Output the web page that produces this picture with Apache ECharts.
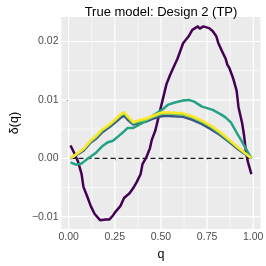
<!DOCTYPE html>
<html><head><meta charset="utf-8">
<script src="https://cdn.jsdelivr.net/npm/echarts@6/dist/echarts.min.js"></script>
<style>html,body{margin:0;padding:0;background:#fff}#c{width:266px;height:266px}</style>
</head><body><div id="c"></div>
<script>
var seriesNames = ['1', '2', '3', '4', '5'];
var seriesColors = ['#440154', '#3B528B', '#25A283', '#6CCB5F', '#FDE725'];

var qPurple = [0.01,0.03,0.05,0.07,0.08,0.10,0.12,0.14,0.17,0.18,0.20,0.22,0.24,0.25,0.28,0.30,0.33,0.35,0.37,0.39,0.40,0.42,0.44,0.45,0.47,0.50,0.53,0.55,0.59,0.62,0.65,0.67,0.70,0.71,0.73,0.76,0.78,0.80,0.81,0.83,0.85,0.86,0.87,0.89,0.91,0.92,0.94,0.95,0.96,0.97,0.99];
var dPurple = [0.0022,0.0009,-0.0005,-0.0027,-0.0049,-0.0065,-0.0082,-0.0095,-0.0106,-0.0104,-0.0105,-0.0105,-0.0098,-0.0093,-0.0082,-0.0068,-0.0060,-0.0051,-0.0040,-0.0027,-0.0010,0.0001,0.0017,0.0031,0.0048,0.0088,0.0127,0.0143,0.0171,0.0197,0.0209,0.0220,0.0226,0.0222,0.0226,0.0223,0.0218,0.0209,0.0198,0.0184,0.0171,0.0160,0.0155,0.0138,0.0116,0.0088,0.0060,0.0040,0.0012,-0.0005,-0.0027];

var qTeal = [0.01,0.04,0.07,0.09,0.12,0.15,0.18,0.21,0.24,0.27,0.30,0.32,0.35,0.38,0.42,0.45,0.48,0.51,0.54,0.58,0.62,0.65,0.68,0.72,0.75,0.78,0.82,0.85,0.88,0.91,0.94,0.97,0.99];
var dTeal = [-0.0007,-0.0011,-0.0009,-0.0004,0.0003,0.0010,0.0020,0.0027,0.0030,0.0038,0.0046,0.0052,0.0052,0.0057,0.0064,0.0072,0.0078,0.0084,0.0092,0.0096,0.0099,0.0100,0.0097,0.0089,0.0086,0.0083,0.0076,0.0070,0.0061,0.0044,0.0028,0.0011,0.0000];

var qBundle = [0.01,0.05,0.08,0.12,0.15,0.18,0.22,0.25,0.28,0.30,0.32,0.35,0.38,0.42,0.45,0.49,0.52,0.57,0.62,0.67,0.72,0.77,0.82,0.87,0.92,0.96,0.99];
var dBlue   = [0.0000,0.0007,0.0013,0.0027,0.0034,0.0044,0.0053,0.0061,0.0069,0.0073,0.0066,0.0058,0.0060,0.0063,0.0067,0.0071,0.0073,0.0072,0.0071,0.0066,0.0059,0.0050,0.0040,0.0028,0.0015,0.0006,0.0000];
var dGreen  = [0.0000,0.0008,0.0015,0.0029,0.0037,0.0047,0.0056,0.0064,0.0073,0.0077,0.0070,0.0060,0.0063,0.0066,0.0070,0.0075,0.0077,0.0076,0.0075,0.0070,0.0063,0.0054,0.0043,0.0030,0.0017,0.0007,0.0000];
var dYellow = [0.0000,0.0009,0.0016,0.0031,0.0039,0.0049,0.0058,0.0066,0.0075,0.0079,0.0072,0.0062,0.0065,0.0068,0.0072,0.0077,0.0079,0.0078,0.0077,0.0072,0.0065,0.0056,0.0045,0.0032,0.0018,0.0008,0.0000];

var refLineQ = [0.01, 0.99];
var refLineD = [0, 0];

var xTicks = [0, 0.25, 0.5, 0.75, 1];
var xMinor = [0.125, 0.375, 0.625, 0.875];
var yTicks = [-0.01, 0, 0.01, 0.02];
var yMinor = [-0.005, 0.005, 0.015];

var X_MIN = -0.039, X_MAX = 1.039, Y_MIN = -0.01213, Y_MAX = 0.0242;

function zip(a, b) { return a.map(function (v, i) { return [v, b[i]]; }); }

var FONT = 'Liberation Sans, Arial, Helvetica, sans-serif';

function gridSeries(vals, vertical, width) {
  return vals.map(function (v) {
    return { type: 'line', silent: true, z: 1, showSymbol: false, symbol: 'none',
      data: vertical ? [[v, Y_MIN], [v, Y_MAX]] : [[X_MIN, v], [X_MAX, v]],
      lineStyle: { color: '#ffffff', width: width } };
  });
}

function lineSeries(name, q, d, color, z) {
  return { name: name, type: 'line', data: zip(q, d), showSymbol: false, symbol: 'none',
    lineStyle: { color: color, width: 2.5 }, itemStyle: { color: color }, z: z, silent: true };
}

var series = []
  .concat(gridSeries(xMinor, true, 0.6))
  .concat(gridSeries(yMinor, false, 0.6))
  .concat(gridSeries(xTicks, true, 1.2))
  .concat(gridSeries(yTicks, false, 1.2));
series.push({ type: 'line', data: zip(refLineQ, refLineD), showSymbol: false, symbol: 'none', z: 2, silent: true,
  lineStyle: { color: '#1a1a1a', width: 1.3, type: [5, 3] } });
series.push(lineSeries(seriesNames[0], qPurple, dPurple, seriesColors[0], 3));
series.push(lineSeries(seriesNames[1], qBundle, dBlue, seriesColors[1], 4));
series.push(lineSeries(seriesNames[2], qTeal, dTeal, seriesColors[2], 5));
series.push(lineSeries(seriesNames[3], qBundle, dGreen, seriesColors[3], 6));
series.push(lineSeries(seriesNames[4], qBundle, dYellow, seriesColors[4], 7));

var chart = echarts.init(document.getElementById('c'), null, { renderer: 'canvas' });
chart.setOption({
  animation: false,
  backgroundColor: '#ffffff',
  title: { text: 'True model: Design 2 (TP)', left: 156, top: 1, textAlign: 'center',
    textStyle: { fontFamily: FONT, fontSize: 13, fontWeight: 'normal', color: '#000' } },
  grid: { left: 49, right: 3, top: 17, bottom: 29, show: true, backgroundColor: '#EBEBEB', borderWidth: 0 },
  xAxis: {
    type: 'value', min: X_MIN, max: X_MAX,
    name: 'q', nameLocation: 'middle', nameGap: 14,
    nameTextStyle: { fontFamily: FONT, fontSize: 12.5, color: '#000' },
    axisLine: { show: false },
    axisTick: { show: true, length: 2, lineStyle: { color: '#333' }, customValues: xTicks },
    axisLabel: { customValues: xTicks, margin: 3, fontFamily: FONT, fontSize: 10.5, color: '#4D4D4D',
      formatter: function (v) { return v.toFixed(2); } },
    splitLine: { show: false }
  },
  yAxis: {
    type: 'value', min: Y_MIN, max: Y_MAX,
    name: 'δ(q)', nameLocation: 'middle', nameGap: 36, nameRotate: 90,
    nameTextStyle: { fontFamily: FONT, fontSize: 12.5, color: '#000' },
    axisLine: { show: false },
    axisTick: { show: true, length: 2, lineStyle: { color: '#333' }, customValues: yTicks },
    axisLabel: { customValues: yTicks, margin: 3, fontFamily: FONT, fontSize: 10.5, color: '#4D4D4D',
      formatter: function (v) { return v.toFixed(2).replace('-', '\u2212'); } },
    splitLine: { show: false }
  },
  series: series
});
</script></body></html>
